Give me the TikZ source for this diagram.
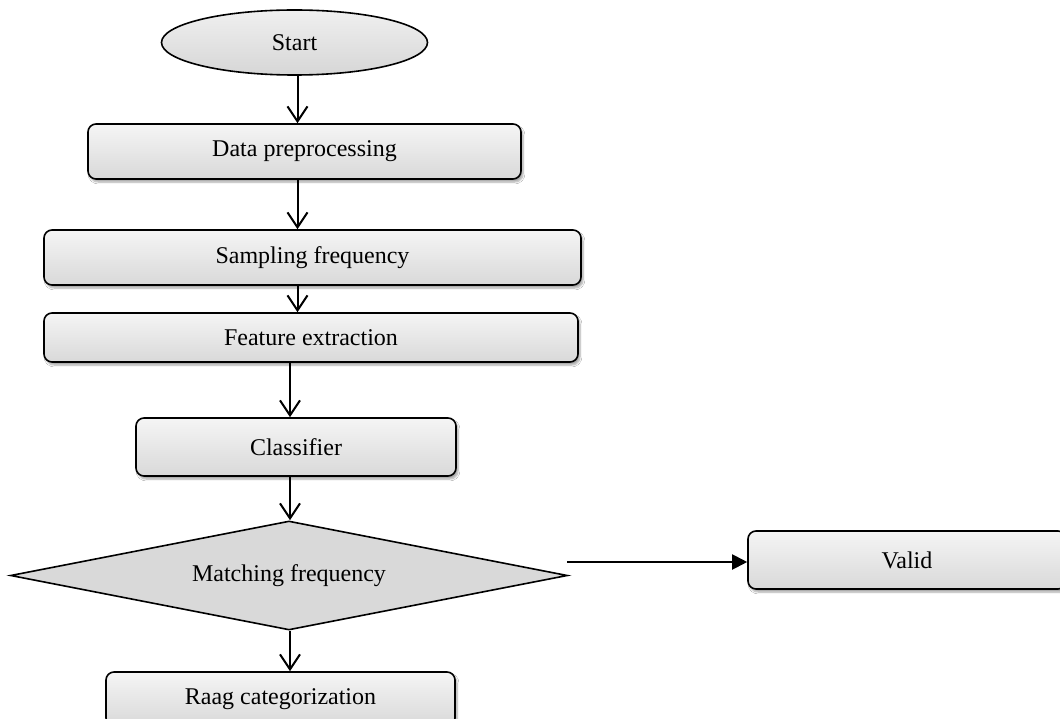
\documentclass[tikz,border=0pt]{standalone}
\usepackage{fontspec}
\setmainfont{Liberation Serif}
\usetikzlibrary{shapes.geometric,arrows.meta,shadows,shadows.blur}
\begin{document}
\begin{tikzpicture}[x=1pt,y=-1pt,
  every node/.style={font=\fontsize{24}{28}\selectfont, text=black},
  procbox/.style={draw=black, line width=1.6pt, rounded corners=8pt,
    top color=gray!8, bottom color=gray!30, inner sep=0pt,
    blur shadow={shadow xshift=2pt, shadow yshift=-3pt, shadow blur steps=6, shadow opacity=35}},
  termbox/.style={ellipse, draw=black, line width=1.6pt,
    top color=gray!12, bottom color=gray!32, inner sep=0pt},
  decbox/.style={diamond, draw=black, line width=1.6pt, fill=gray!30,
    shape aspect=5, inner sep=0pt},
  arr/.style={line width=2pt, -{Straight Barb[length=15pt,width=20pt,line width=2pt]}},
  arrfill/.style={line width=2pt, -{Triangle[length=15pt,width=15pt]}}
]
\useasboundingbox (0,0) rectangle (1060,719);
\clip (0,0) rectangle (1060,719);
\fill[white] (0,0) rectangle (1060,719);

\node[termbox, minimum width=266pt, minimum height=65pt] (start) at (294.5,42.5) {Start};
\node[procbox, minimum width=433pt, minimum height=55pt] (dp) at (304.5,151.5) {Data preprocessing};
\node[procbox, minimum width=537pt, minimum height=55pt] (sf) at (312.5,257.5) {Sampling frequency};
\node[procbox, minimum width=534pt, minimum height=49pt] (fe) at (311,337.5) {Feature extraction};
\node[procbox, minimum width=320pt, minimum height=58pt] (cl) at (296,447) {Classifier};
\node[decbox, minimum width=557pt, minimum height=109pt] (mf) at (289,575.5) {Matching frequency};
\node[procbox, minimum width=318pt, minimum height=58pt] (valid) at (907,560) {Valid};
\node[procbox, minimum width=349pt, minimum height=54pt] (raag) at (280.5,699) {Raag categorization};

\coordinate (ax) at (297.5,0);
\coordinate (bx) at (290,0);
\coordinate (vs) at (567,562);

\draw[arr] (start.south -| ax) -- (dp.north -| ax);
\draw[arr] (dp.south -| ax) -- (sf.north -| ax);
\draw[arr] (sf.south -| ax) -- (fe.north -| ax);
\draw[arr] (fe.south -| bx) -- (cl.north -| bx);
\draw[arr] (cl.south -| bx) -- (mf.north -| bx);
\draw[arr] (mf.south -| bx) -- (raag.north -| bx);
\draw[arrfill] (vs) -- (vs -| valid.west);
\end{tikzpicture}
\end{document}
